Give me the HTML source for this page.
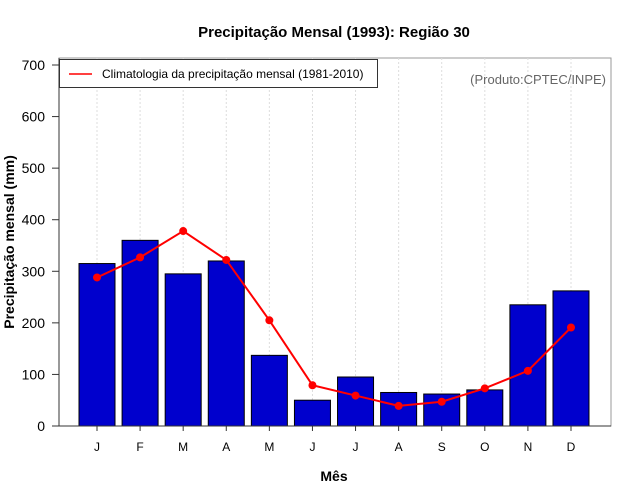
<!DOCTYPE html>
<html><head><meta charset="utf-8"><style>body{margin:0;background:#fff}svg{display:block;font-family:"Liberation Sans",sans-serif}</style></head>
<body>
<svg id="chart" width="640" height="500">
<rect width="640" height="500" fill="#fff"/>
<text x="334" y="37" text-anchor="middle" font-size="15" font-weight="bold">Precipitação Mensal (1993): Região 30</text>
<rect x="59" y="58" width="552" height="368" fill="none" stroke="#999" stroke-width="1"/>
<g id="grid"></g><g id="bars"></g><g id="line"></g><g id="axes"></g>
<line x1="59" y1="58" x2="59" y2="426" stroke="#333"/>
<line x1="59" y1="426" x2="611" y2="426" stroke="#333"/>
<g>
<rect x="59.5" y="59.5" width="318" height="28" fill="#fff" stroke="#333"/>
<line x1="69" y1="74" x2="92" y2="74" stroke="#f00" stroke-width="1.5"/>
<text x="102" y="78" font-size="12">Climatologia da precipitação mensal (1981-2010)</text>
</g>
<text x="606" y="84" text-anchor="end" font-size="13" fill="#666">(Produto:CPTEC/INPE)</text>
<text x="334" y="481" text-anchor="middle" font-size="14" font-weight="bold">Mês</text>
<text transform="translate(14,242) rotate(-90)" text-anchor="middle" font-size="14" font-weight="bold">Precipitação mensal (mm)</text>
</svg>
<script>
const months=["J","F","M","A","M","J","J","A","S","O","N","D"];
const observed=[315,360,295,320,137,50,95,65,62,70,235,262];
const climatology=[288,327,378,322,205,79,59,39,47,73,107,191];
const yTicks=[0,100,200,300,400,500,600,700];
const NS="http://www.w3.org/2000/svg";
const xs=i=>97+i*43.09;
const ys=v=>426-v*(361/700);
function mk(t,a,p){const e=document.createElementNS(NS,t);for(const k in a)e.setAttribute(k,a[k]);p.appendChild(e);return e;}
const grid=document.getElementById('grid'),bars=document.getElementById('bars'),line=document.getElementById('line'),axes=document.getElementById('axes');
months.forEach((m,i)=>{
 const g=mk('line',{x1:xs(i),x2:xs(i),y1:58,y2:426,stroke:'#ddd','stroke-dasharray':'2,2'},grid);
 
 
 const r=mk('rect',{x:xs(i)-18,y:ys(observed[i]),width:36,height:ys(0)-ys(observed[i]),fill:'#0000cd',stroke:'#000','stroke-width':1},bars);
 
 
 const tk=mk('line',{x1:xs(i),x2:xs(i),y1:426,y2:431,stroke:'#333'},axes);
 
 
 const t=mk('text',{x:xs(i),y:451,'text-anchor':'middle','font-size':12},axes);t.textContent=m;
 
 
});
const pl=mk('polyline',{points:climatology.map((v,i)=>xs(i)+','+ys(v)).join(' '),fill:'none',stroke:'#f00','stroke-width':2},line);


climatology.forEach((v,i)=>{
 const c=mk('circle',{cx:xs(i),cy:ys(v),r:4,fill:'#f00'},line);
 
 
});
yTicks.forEach(v=>{
 const tk=mk('line',{x1:52,x2:59,y1:ys(v),y2:ys(v),stroke:'#333'},axes);
 
 
 const t=mk('text',{x:45,y:ys(v)+5,'text-anchor':'end','font-size':14},axes);t.textContent=v;
 
 
});
</script>
</body></html>
